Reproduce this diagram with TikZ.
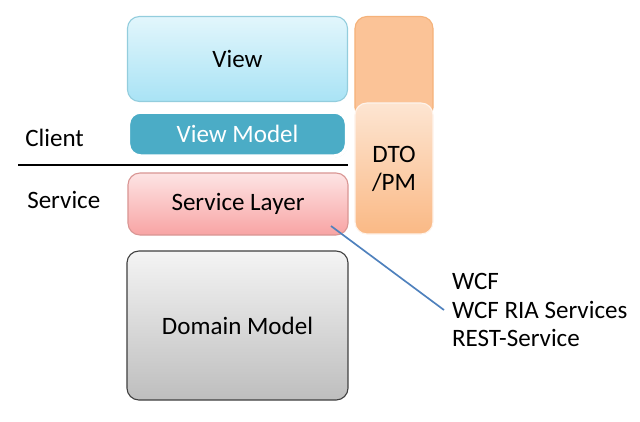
\documentclass[tikz,border=0pt]{standalone}
\usepackage{fontspec}
\setmainfont{Carlito}
\usetikzlibrary{shadows}
\definecolor{viewtop}{HTML}{E2F6FC}
\definecolor{viewbot}{HTML}{A9E3F5}
\definecolor{viewline}{HTML}{93CDDD}
\definecolor{vmfill}{HTML}{4BACC6}
\definecolor{svctop}{HTML}{FDE4E4}
\definecolor{svcbot}{HTML}{F8A4A4}
\definecolor{svcline}{HTML}{D99694}
\definecolor{dtotop}{HTML}{FDE5D2}
\definecolor{dtobot}{HTML}{FAB985}
\definecolor{dtoline}{HTML}{F5B27A}
\definecolor{domtop}{HTML}{F4F4F4}
\definecolor{dombot}{HTML}{BEBEBE}
\definecolor{linkblue}{HTML}{4F81BD}

\begin{document}
\begin{tikzpicture}[x=0.025cm,y=-0.025cm,
  font=\fontsize{17.8}{20}\selectfont,
  box/.style={rectangle,rounded corners=0.3cm,line width=0.8pt,inner sep=0pt},
  txt/.style={anchor=west,inner sep=0pt}]
\useasboundingbox (0,0) rectangle (640,422);
\node[box,draw=dtoline,fill=dtobot!85!white,minimum width=1.95cm,minimum height=2.575cm] (dtoup) at (394,68) {};
\node[box,draw=white!85!dtoline,top color=dtotop,bottom color=dtobot,minimum width=1.95cm,minimum height=3.275cm,align=center] (dto) at (394,168.5) {DTO\\/PM};
\node[box,draw=viewline,top color=viewtop,bottom color=viewbot,minimum width=5.5cm,minimum height=2.125cm] (view) at (237.5,59) {View};
\node[box,draw=white,line width=2.5pt,fill=vmfill,text=white,minimum width=5.45cm,minimum height=1.1cm,
  drop shadow={opacity=0.3,shadow xshift=0.6pt,shadow yshift=-1pt}] (vm) at (237.5,134) {View Model};
\node[box,draw=svcline,top color=svctop,bottom color=svcbot,minimum width=5.5cm,minimum height=1.55cm] (svc) at (238,204) {Service Layer};
\node[box,draw=black!75,top color=domtop,bottom color=dombot,minimum width=5.525cm,minimum height=3.725cm] (dom) at (237.5,325.5) {Domain Model};
\node[txt] (client) at (25,138) {Client};
\node[txt] (server) at (27,200) {Service};
\coordinate (cutl) at (18,165);
\coordinate (cutr) at (348,165);
\draw[line width=1.6pt] (cutl) -- (cutr);
\node[anchor=west,align=left,inner sep=5.5pt] (proto) at (444,310) {WCF\\WCF RIA Services\\REST-Service};
\coordinate (tap) at (331,226);
\draw[linkblue,line width=1.2pt] (tap) -- (proto.west);
\end{tikzpicture}
\end{document}
